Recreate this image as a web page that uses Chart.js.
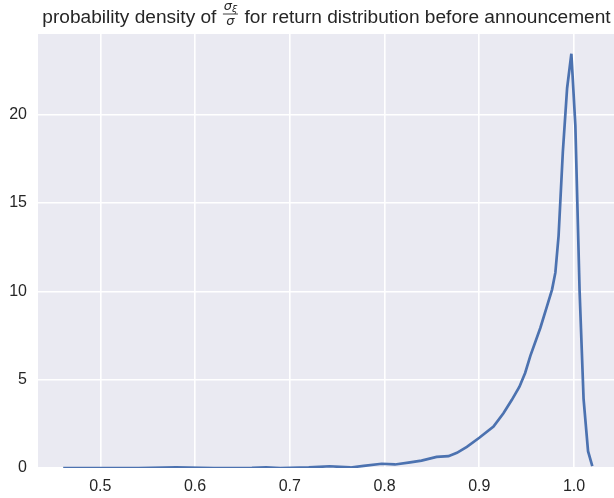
<!DOCTYPE html>
<html>
<head>
<meta charset="utf-8">
<script src="https://cdn.jsdelivr.net/npm/chart.js@4.4.1/dist/chart.umd.min.js"></script>
<style>
html, body { margin: 0; padding: 0; background: #ffffff; }
#wrap { width: 614px; height: 498px; }
</style>
</head>
<body>
<div id="wrap"><canvas id="c" width="614" height="498"></canvas></div>
<script>
// ---- data ----
const xValues = [0.4608, 0.50, 0.54, 0.58, 0.62, 0.66, 0.675, 0.69, 0.72, 0.742, 0.764, 0.778,
  0.797, 0.811, 0.827, 0.839, 0.855, 0.8675, 0.8764, 0.8869, 0.90, 0.915, 0.9255, 0.9344,
  0.9424, 0.9484, 0.9539, 0.9645, 0.9715, 0.9768, 0.9803, 0.9837, 0.9882, 0.9927, 0.9972,
  1.0014, 1.0059, 1.0101, 1.0148, 1.0193];
const densityValues = [0.0, 0.0, 0.0, 0.03, 0.0, 0.01, 0.04, 0.0, 0.03, 0.10, 0.03, 0.12,
  0.24, 0.20, 0.32, 0.42, 0.63, 0.67, 0.86, 1.20, 1.71, 2.34, 3.10, 3.86,
  4.60, 5.38, 6.35, 7.94, 9.17, 10.10, 11.06, 13.14, 17.90, 21.50, 23.45,
  19.40, 10.00, 3.90, 0.95, 0.10];
const xTicks = [0.5, 0.6, 0.7, 0.8, 0.9, 1.0];
const yTicks = [0, 5, 10, 15, 20];
const titleLeft = 'probability density of ';
const titleRight = ' for return distribution before announcement';
const fracNum = 'σ';
const fracSub = 'ξ';
const fracDen = 'σ';

const FONT = "'Liberation Sans', Arial, sans-serif";
const MATHFONT = "'DejaVu Sans', sans-serif";
const TEXT = '#262626';

const points = xValues.map((x, i) => ({ x: x, y: densityValues[i] }));

const bgPlugin = {
  id: 'bg',
  beforeDraw(chart) {
    const a = chart.chartArea, ctx = chart.ctx;
    ctx.save();
    ctx.fillStyle = '#EAEAF2';
    ctx.fillRect(a.left, a.top, a.right - a.left, a.bottom - a.top);
    ctx.restore();
  }
};

const titlePlugin = {
  id: 'mathTitle',
  afterDraw(chart) {
    const ctx = chart.ctx;
    ctx.save();
    const size = 19.1;
    ctx.fillStyle = TEXT;
    ctx.strokeStyle = TEXT;
    ctx.textBaseline = 'alphabetic';
    ctx.font = size + 'px ' + FONT;
    const wl = ctx.measureText(titleLeft).width;
    const wr = ctx.measureText(titleRight).width;
    const numFont = 'italic 13px ' + MATHFONT;
    const subFont = 'italic 9.5px ' + MATHFONT;
    ctx.font = numFont;
    const wNum = ctx.measureText(fracNum).width;
    ctx.font = subFont;
    const wSub = ctx.measureText(fracSub).width;
    ctx.font = numFont;
    const wDen = ctx.measureText(fracDen).width;
    const numW = wNum + wSub;
    const barW = Math.max(numW, wDen) + 1.5;
    const pad = 1.2;
    const total = wl + pad + barW + pad + wr;
    const cx = 326.5;
    let x = cx - total / 2;
    const base = 22.5;
    ctx.font = size + 'px ' + FONT;
    ctx.textAlign = 'left';
    ctx.fillText(titleLeft, x, base);
    x += wl + pad;
    // fraction
    const barY = 14;
    ctx.lineWidth = 0.9;
    ctx.beginPath();
    ctx.moveTo(x, barY);
    ctx.lineTo(x + barW, barY);
    ctx.stroke();
    ctx.font = numFont;
    const nx = x + (barW - numW) / 2;
    ctx.fillText(fracNum, nx, barY - 4.5);
    ctx.font = subFont;
    ctx.fillText(fracSub, nx + wNum, barY - 2.5);
    ctx.font = numFont;
    ctx.fillText(fracDen, x + (barW - wDen) / 2, barY + 10.5);
    x += barW + pad;
    ctx.font = size + 'px ' + FONT;
    ctx.fillText(titleRight, x, base);
    ctx.restore();
  }
};

new Chart(document.getElementById('c'), {
  type: 'line',
  data: {
    datasets: [{
      data: points,
      borderColor: '#4C72B0',
      borderWidth: 2.7,
      pointRadius: 0,
      tension: 0,
      fill: false
    }]
  },
  options: {
    responsive: false,
    animation: false,
    devicePixelRatio: 1,
    layout: { padding: { top: 34, left: 0, right: 0, bottom: 0 } },
    plugins: { legend: { display: false }, title: { display: false }, tooltip: { enabled: false } },
    scales: {
      x: {
        type: 'linear',
        min: 0.4342,
        max: 1.0422,
        border: { display: false },
        grid: { color: '#ffffff', lineWidth: 1.6, drawTicks: false },
        ticks: {
          padding: 9,
          color: TEXT,
          font: { family: FONT, size: 16 },
          callback: v => Number(v).toFixed(1)
        },
        afterBuildTicks(scale) { scale.ticks = xTicks.map(v => ({ value: v })); },
        afterFit(scale) { scale.height = 30; }
      },
      y: {
        type: 'linear',
        min: 0,
        max: 24.57,
        border: { display: false },
        grid: { color: '#ffffff', lineWidth: 1.6, drawTicks: false },
        ticks: {
          padding: 11,
          color: TEXT,
          font: { family: FONT, size: 16 },
          callback: v => String(v)
        },
        afterBuildTicks(scale) { scale.ticks = yTicks.map(v => ({ value: v })); },
        afterFit(scale) { scale.width = 38; }
      }
    }
  },
  plugins: [bgPlugin, titlePlugin]
});
</script>
</body>
</html>
